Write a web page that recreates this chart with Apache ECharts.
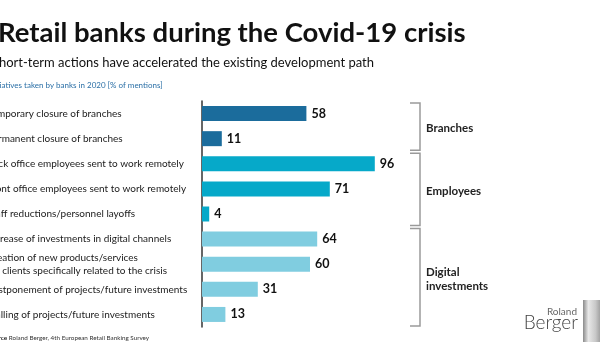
<!DOCTYPE html>
<html><head><meta charset="utf-8">
<script src="https://cdn.jsdelivr.net/npm/echarts@6/dist/echarts.min.js"></script>
<style>html,body{margin:0;padding:0;background:#fff}#c{width:600px;height:355px}</style>
</head><body><div id="c"></div>
<script>
const categories = [
  "Temporary closure of branches",
  "Permanent closure of branches",
  "Back office employees sent to work remotely",
  "Front office employees sent to work remotely",
  "Staff reductions/personnel layoffs",
  "Increase of investments in digital channels",
  "Creation of new products/services\nfor clients specifically related to the crisis",
  "Postponement of projects/future investments",
  "Stalling of projects/future investments"
];
const values = [58, 11, 96, 71, 4, 64, 60, 31, 13];
const groupOf = [0, 0, 1, 1, 1, 2, 2, 2, 2];
const groupNames = ["Branches", "Employees", "Digital\ninvestments"];
const groupColors = ["#1b6c9c", "#06a9c9", "#80cde0"];

const FONT = "Lato";
const chart = echarts.init(document.getElementById('c'), null, {renderer: 'canvas'});

const option = {
  animation: false,
  grid: {left: 202, top: 101, width: 180, height: 226, containLabel: false, outerBoundsMode: 'none'},
  xAxis: {type: 'value', min: 0, max: 100, show: false},
  yAxis: {
    type: 'category', data: categories, inverse: true,
    axisLine: {show: true, lineStyle: {color: '#333', width: 1.5}},
    axisTick: {show: false},
    axisLabel: {align: 'left', margin: 215, fontFamily: FONT, fontSize: 10, color: '#1a1a1a', lineHeight: 13}
  },
  series: [{
    type: 'bar', barWidth: 15,
    data: values.map((v, i) => ({value: v, itemStyle: {color: groupColors[groupOf[i]]}})),
    label: {show: true, position: 'right', distance: 5, fontFamily: FONT, fontWeight: 'bold', fontSize: 12.5, color: '#111'}
  }]
};
chart.setOption(option);

// brackets computed from the category axis
const half = 226 / categories.length / 2;
const elements = [];
groupNames.forEach((name, g) => {
  const idx = groupOf.map((x, i) => x === g ? i : -1).filter(i => i >= 0);
  const y0 = chart.convertToPixel({yAxisIndex: 0}, idx[0]) - half + 2;
  const y1 = chart.convertToPixel({yAxisIndex: 0}, idx[idx.length - 1]) + half - 1;
  const xv = 420, xt = 410;
  elements.push({type: 'polyline', shape: {points: [[xt, y0], [xv, y0], [xv, y1], [xt, y1]]},
    style: {stroke: '#9a9a9a', lineWidth: 1.5, fill: null}});
  elements.push({type: 'text', x: 426, y: (y0 + y1) / 2 + 2,
    style: {text: name, font: 'bold 11.5px ' + FONT, fill: '#222', verticalAlign: 'middle', lineHeight: 14}});
});

// titles
elements.push({type: 'text', x: -2, y: 33, style: {text: 'Retail banks during the Covid-19 crisis', font: 'bold 27.5px ' + FONT, fill: '#111', verticalAlign: 'middle'}});
elements.push({type: 'text', x: -8, y: 63, style: {text: 'Short-term actions have accelerated the existing development path', font: '13px ' + FONT, fill: '#111', verticalAlign: 'middle'}});
elements.push({type: 'text', x: -12, y: 85, style: {text: 'Initiatives taken by banks in 2020 [% of mentions]', font: '8px ' + FONT, fill: '#2a6fa6', verticalAlign: 'middle'}});
elements.push({type: 'text', x: -12, y: 338, style: {
  text: '{b|Source} Roland Berger, 4th European Retail Banking Survey',
  font: '6.3px ' + FONT, fill: '#333', verticalAlign: 'middle',
  rich: {b: {fontWeight: 'bold', fontSize: 6.3, fontFamily: FONT, fill: '#222'}}}});

// logo
elements.push({type: 'text', x: 577, y: 312, style: {text: 'Roland', font: '10px ' + FONT, fill: '#666', align: 'right', verticalAlign: 'middle'}});
elements.push({type: 'text', x: 578, y: 323, style: {text: 'Berger', font: '300 19px ' + FONT, fill: '#444', align: 'right', verticalAlign: 'middle'}});
elements.push({type: 'rect', shape: {x: 583, y: 300, width: 18, height: 42},
  style: {fill: new echarts.graphic.LinearGradient(0, 0, 1, 0, [
    {offset: 0, color: '#8a8a8a'}, {offset: 0.3, color: '#e8e8e8'}, {offset: 0.7, color: '#c8c8c8'}, {offset: 1, color: '#9a9a9a'}])}});

chart.setOption({graphic: {elements: elements}});
</script></body></html>
